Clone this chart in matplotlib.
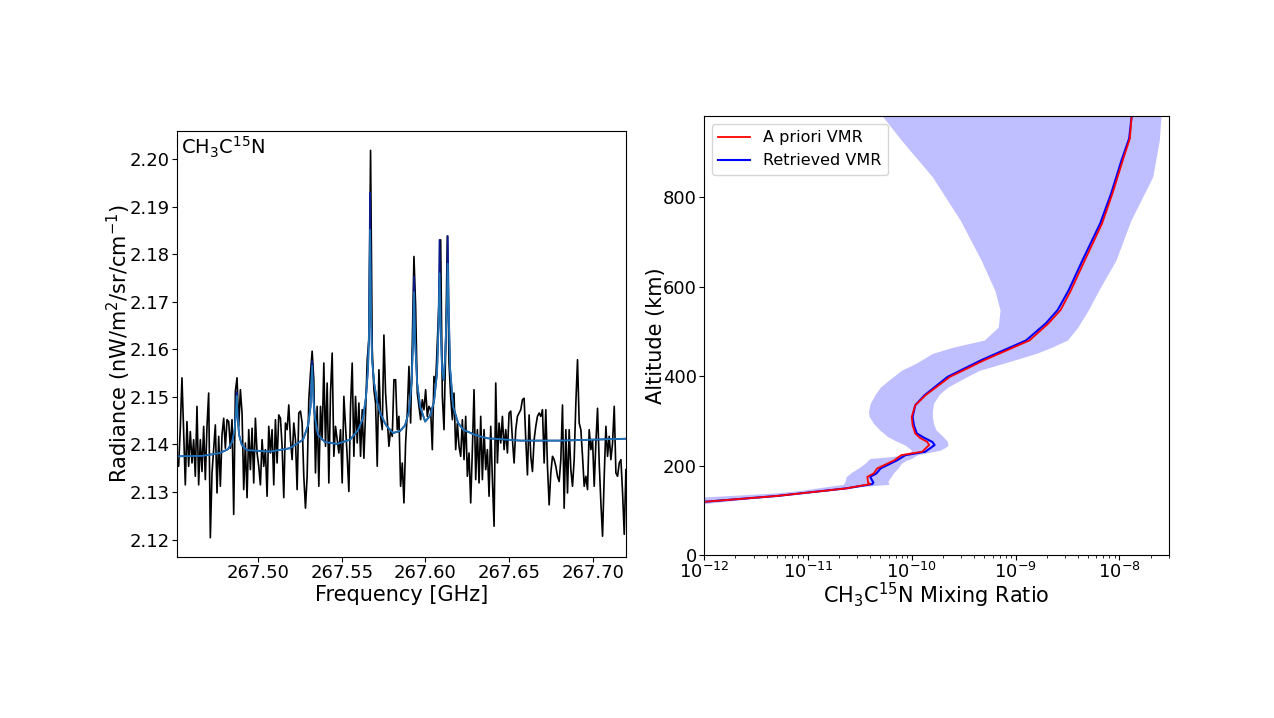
import numpy as np
import matplotlib
matplotlib.use("Agg")
import matplotlib.pyplot as plt

# ---- spectrum (left panel) ----
f_start, f_end = 267.4516, 267.7197
radiance = [
    2.1368, 2.1354, 2.1434, 2.1540, 2.1431, 2.1315, 2.1448, 2.1354, 2.1427, 2.1361,
    2.1410, 2.1333, 2.1480, 2.1315, 2.1410, 2.1343, 2.1438, 2.1326, 2.1438, 2.1508,
    2.1204, 2.1340, 2.1389, 2.1441, 2.1298, 2.1417, 2.1312, 2.1420, 2.1455, 2.1392,
    2.1452, 2.1448, 2.1392, 2.1452, 2.1253, 2.1512, 2.1540, 2.1438, 2.1515, 2.1466,
    2.1305, 2.1403, 2.1288, 2.1431, 2.1347, 2.1434, 2.1319, 2.1455, 2.1382, 2.1354,
    2.1315, 2.1410, 2.1354, 2.1389, 2.1291, 2.1438, 2.1382, 2.1431, 2.1315, 2.1452,
    2.1361, 2.1462, 2.1455, 2.1396, 2.1288, 2.1445, 2.1431, 2.1483,
    2.1410, 2.1368, 2.1445, 2.1410, 2.1305, 2.1466, 2.1470, 2.1445, 2.1333, 2.1266,
    2.1333, 2.1494, 2.1550, 2.1596, 2.1536, 2.1340, 2.1480, 2.1312, 2.1480, 2.1410,
    2.1571, 2.1396, 2.1529, 2.1319, 2.1508, 2.1592, 2.1375, 2.1438, 2.1410, 2.1382,
    2.1431, 2.1319, 2.1501, 2.1438, 2.1375, 2.1301, 2.1480, 2.1571, 2.1375, 2.1501,
    2.1403, 2.1487, 2.1375, 2.1473, 2.1371, 2.1466, 2.1578, 2.1620, 2.2018, 2.1600,
    2.1515, 2.1487, 2.1354, 2.1557, 2.1459, 2.1431, 2.1630, 2.1508, 2.1452, 2.1396,
    2.1431, 2.1417, 2.1536,
    2.1536, 2.1431, 2.1459, 2.1312, 2.1361, 2.1277, 2.1403, 2.1466, 2.1564, 2.1445,
    2.1613, 2.1795, 2.1690, 2.1508, 2.1480, 2.1452, 2.1494, 2.1473, 2.1515, 2.1459,
    2.1480, 2.1473, 2.1389, 2.1543, 2.1529, 2.1613, 2.1700, 2.1830, 2.1501, 2.1431,
    2.1600, 2.1838, 2.1571, 2.1501, 2.1452, 2.1508, 2.1389, 2.1445, 2.1396, 2.1375,
    2.1452, 2.1368, 2.1459, 2.1333, 2.1382, 2.1277, 2.1389, 2.1515, 2.1326, 2.1431,
    2.1319, 2.1459, 2.1326, 2.1431, 2.1347, 2.1389, 2.1291, 2.1438, 2.1326, 2.1228,
    2.1529, 2.1361, 2.1445, 2.1403, 2.1459, 2.1389, 2.1431, 2.1382, 2.1466,
    2.1470, 2.1410, 2.1361, 2.1431, 2.1459, 2.1466, 2.1473, 2.1494, 2.1497, 2.1410,
    2.1336, 2.1462, 2.1375, 2.1343, 2.1410, 2.1438, 2.1459, 2.1466, 2.1459, 2.1473,
    2.1361, 2.1473, 2.1354, 2.1273, 2.1340, 2.1375, 2.1368, 2.1354, 2.1333, 2.1322,
    2.1368, 2.1483, 2.1266, 2.1431, 2.1298, 2.1431, 2.1347, 2.1312, 2.1368, 2.1487,
    2.1578, 2.1445, 2.1431, 2.1375, 2.1312, 2.1333, 2.1305, 2.1431, 2.1389, 2.1410,
    2.1312, 2.1403, 2.1476, 2.1361, 2.1277, 2.1207, 2.1333, 2.1438, 2.1375, 2.1417,
    2.1368, 2.1403, 2.1480, 2.1340, 2.1333, 2.1361, 2.1368, 2.1298, 2.1211, 2.1347,
]
freq = np.linspace(f_start, f_end, len(radiance))

model_freq = [267.4516, 267.4671, 267.4773, 267.4821, 267.4845, 267.4860, 267.4869, 267.4873,
              267.4878, 267.4887, 267.4904, 267.4934, 267.5072, 267.5191, 267.5269, 267.5299,
              267.5314, 267.5323, 267.5332, 267.5341, 267.5358, 267.5400, 267.5472, 267.5550,
              267.5597, 267.5627, 267.5645, 267.5657, 267.5664, 267.5669, 267.5675, 267.5681,
              267.5693, 267.5711, 267.5729, 267.5765, 267.5806, 267.5848, 267.5878, 267.5902,
              267.5917, 267.5926, 267.5932, 267.5938, 267.5950, 267.5968, 267.5998, 267.6027,
              267.6051, 267.6069, 267.6078, 267.6084, 267.6090, 267.6099, 267.6108, 267.6117,
              267.6127, 267.6133, 267.6139, 267.6147, 267.6165, 267.6195, 267.6225, 267.6296,
              267.6368, 267.6565, 267.6804, 267.7197]
model_fit = [2.1375, 2.1376, 2.1382, 2.1390, 2.1405, 2.1430, 2.1470, 2.1502,
             2.1460, 2.1420, 2.1398, 2.1388, 2.1385, 2.1392, 2.1410, 2.1440,
             2.1480, 2.1565, 2.1490, 2.1455, 2.1420, 2.1405, 2.1401, 2.1410,
             2.1430, 2.1455, 2.1500, 2.1560, 2.1650, 2.1851, 2.1680, 2.1580,
             2.1530, 2.1490, 2.1466, 2.1440, 2.1424, 2.1428, 2.1440, 2.1470,
             2.1530, 2.1620, 2.1720, 2.1620, 2.1530, 2.1480, 2.1448, 2.1460,
             2.1490, 2.1550, 2.1650, 2.1760, 2.1660, 2.1560, 2.1536, 2.1580,
             2.1680, 2.1780, 2.1680, 2.1560, 2.1480, 2.1445, 2.1431, 2.1420,
             2.1413, 2.1408, 2.1408, 2.1412]
model_fit2 = [2.1375, 2.1376, 2.1382, 2.1390, 2.1405, 2.1430, 2.1470, 2.1510,
              2.1460, 2.1420, 2.1398, 2.1388, 2.1385, 2.1392, 2.1410, 2.1440,
              2.1480, 2.1575, 2.1490, 2.1455, 2.1420, 2.1405, 2.1401, 2.1410,
              2.1430, 2.1455, 2.1500, 2.1560, 2.1650, 2.1929, 2.1680, 2.1580,
              2.1530, 2.1490, 2.1466, 2.1440, 2.1424, 2.1428, 2.1440, 2.1470,
              2.1530, 2.1620, 2.1753, 2.1620, 2.1530, 2.1480, 2.1448, 2.1460,
              2.1490, 2.1550, 2.1650, 2.1830, 2.1660, 2.1560, 2.1536, 2.1580,
              2.1680, 2.1838, 2.1680, 2.1560, 2.1480, 2.1445, 2.1431, 2.1420,
              2.1413, 2.1408, 2.1408, 2.1412]

# ---- VMR profiles (right panel) ----
alt_prof = [110, 119, 132, 149, 158.7, 162, 175, 182.5, 193.7, 212, 223.5, 231, 246, 253,
            262, 272, 290, 309, 335, 357.5, 398.5, 436, 480, 518, 548, 592, 660, 742,
            809, 884, 932, 982]
vmr_apriori = [5.0e-13, 1.0e-12, 5.0e-12, 2.33e-11, 3.98e-11, 3.80e-11, 3.74e-11, 4.30e-11,
               4.65e-11, 6.81e-11, 7.94e-11, 1.26e-10, 1.47e-10, 1.41e-10, 1.20e-10, 1.08e-10,
               1.02e-10, 1.00e-10, 1.08e-10, 1.36e-10, 2.33e-10, 5.01e-10, 1.36e-9, 2.07e-9,
               2.71e-9, 3.41e-9, 4.65e-9, 6.81e-9, 8.57e-9, 1.08e-8, 1.26e-8, 1.31e-8]
vmr_retrieved = [5.0e-13, 1.0e-12, 5.0e-12, 2.33e-11, 4.17e-11, 4.27e-11, 3.98e-11, 4.57e-11,
                 5.01e-11, 7.24e-11, 8.71e-11, 1.35e-10, 1.66e-10, 1.58e-10, 1.32e-10, 1.12e-10,
                 1.05e-10, 1.02e-10, 1.08e-10, 1.33e-10, 2.21e-10, 4.68e-10, 1.26e-9, 1.95e-9,
                 2.54e-9, 3.24e-9, 4.42e-9, 6.53e-9, 8.32e-9, 1.05e-8, 1.24e-8, 1.31e-8]

alt_band = [115, 125, 130, 135, 139, 145, 152, 158, 165, 175, 185, 195, 205, 212, 216, 220,
            225, 234, 240, 246, 255, 265, 280, 294, 310, 320, 339, 360, 376, 395, 413, 430,
            451, 465, 481, 510, 548, 592, 660, 749, 846, 928, 982]
vmr_lo = [1.26e-13, 4.47e-13, 1.0e-12, 2.51e-12, 5.01e-12, 8.91e-12, 1.41e-11, 2.19e-11,
          2.29e-11, 2.33e-11, 2.63e-11, 3.09e-11, 3.55e-11, 3.80e-11, 3.98e-11, 6.31e-11,
          8.91e-11, 1.0e-10, 9.33e-11, 8.57e-11, 7.08e-11, 5.85e-11, 4.90e-11, 4.30e-11,
          3.89e-11, 3.83e-11, 3.98e-11, 4.47e-11, 5.01e-11, 6.31e-11, 7.94e-11, 1.12e-10,
          1.58e-10, 2.51e-10, 5.01e-10, 6.81e-10, 7.08e-10, 6.31e-10, 4.65e-10, 2.93e-10,
          1.58e-10, 7.94e-11, 5.21e-11]
vmr_hi = [1.0e-12, 2.51e-12, 3.55e-12, 5.62e-12, 7.94e-12, 1.58e-11, 2.82e-11, 6.03e-11,
          5.89e-11, 6.31e-11, 6.76e-11, 7.41e-11, 7.94e-11, 8.91e-11, 1.0e-10, 1.05e-10,
          1.17e-10, 1.85e-10, 2.09e-10, 2.24e-10, 2.19e-10, 2.0e-10, 1.71e-10, 1.62e-10,
          1.58e-10, 1.58e-10, 1.62e-10, 1.85e-10, 2.24e-10, 3.16e-10, 4.47e-10, 7.94e-10,
          1.58e-9, 2.24e-9, 3.16e-9, 3.98e-9, 5.01e-9, 6.31e-9, 9.27e-9, 1.29e-8,
          2.09e-8, 2.42e-8, 2.51e-8]

fig = plt.figure(figsize=(12.74, 7.18), dpi=100)

ax1 = fig.add_axes([0.1389, 0.2242, 0.3524, 0.5933])
ax1.plot(freq, radiance, color='black', lw=1.2)
ax1.plot(model_freq, model_fit2, color='#0b1a8f', lw=1.3)
ax1.plot(model_freq, model_fit, color='#1f77b4', lw=1.2)
ax1.set_xlim(f_start, f_end)
ax1.set_xticks([267.50, 267.55, 267.60, 267.65, 267.70])
ax1.tick_params(labelsize=13, pad=1.5)
ax1.set_xlabel('Frequency [GHz]', fontsize=15, labelpad=2.5)
ax1.set_ylabel('Radiance (nW/m$^2$/sr/cm$^{-1}$)', fontsize=15, labelpad=-2)
ax1.text(0.008, 0.99, 'CH$_3$C$^{15}$N', transform=ax1.transAxes, fontsize=14,
         va='top', ha='left')

ax2 = fig.add_axes([0.5526, 0.2270, 0.3650, 0.6114])
ax2.fill_betweenx(alt_band, vmr_lo, vmr_hi, color='blue', alpha=0.25, lw=0)
l2, = ax2.plot(vmr_retrieved, alt_prof, color='blue', lw=1.5, label='Retrieved VMR')
l1, = ax2.plot(vmr_apriori, alt_prof, color='red', lw=1.3, label='A priori VMR')
ax2.set_xscale('log')
ax2.set_xlim(1e-12, 3e-8)
ax2.set_ylim(0, 982)
ax2.tick_params(labelsize=13, pad=1.5)
ax2.set_xlabel('CH$_3$C$^{15}$N Mixing Ratio', fontsize=15, labelpad=-1)
ax2.set_ylabel('Altitude (km)', fontsize=15, labelpad=-2)
ax2.legend(handles=[l1, l2], loc='upper left', fontsize=11.5)

fig.savefig('out.png', dpi=100)
